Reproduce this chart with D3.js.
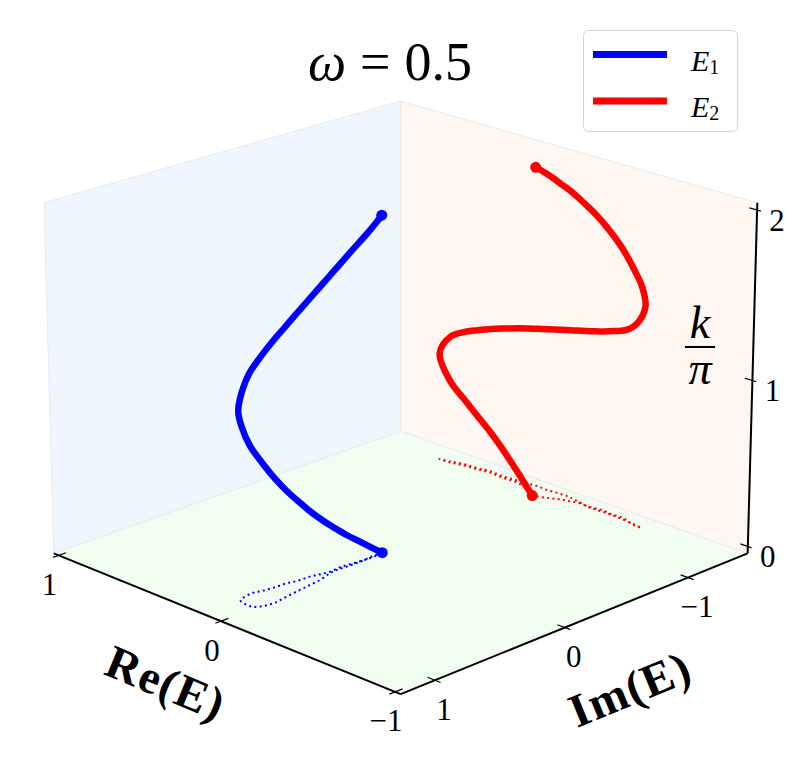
<!DOCTYPE html>
<html>
<head>
<meta charset="utf-8">
<script src="https://cdn.jsdelivr.net/npm/d3@7"></script>
<style>
  body { margin: 0; background: #fff; }
  svg { display: block; }
</style>
</head>
<body>
<svg id="chart" width="792" height="781"></svg>
<script>
const kE1 = [0, 0.046, 0.121, 0.191, 0.246, 0.289, 0.369, 0.442, 0.522, 0.631, 0.739, 0.844, 0.944, 1.037, 1.108,
             1.173, 1.290, 1.374, 1.444, 1.503, 1.568, 1.626, 1.681, 1.735, 1.780, 1.849, 1.918, 1.971, 2.0];
const reE1 = [0.006, 0.007, 0.001, 0.001, 0.005, -0.001, -0.024, -0.034, -0.043, -0.056, -0.068, -0.060, -0.032, 0.017, 0.046,
              0.059, 0.071, 0.058, 0.050, 0.047, 0.034, 0.031, 0.020, 0.011, 0.016, 0.009, 0.000, -0.001, 0.006];
const imE1 = [0.014, 0.084, 0.195, 0.299, 0.372, 0.431, 0.538, 0.627, 0.716, 0.833, 0.937, 1.014, 1.065, 1.063, 1.050,
              1.019, 0.935, 0.865, 0.786, 0.701, 0.630, 0.544, 0.481, 0.415, 0.331, 0.238, 0.144, 0.067, 0.014];

// E2 (red)
const kE2 = [0, 0.014, 0.073, 0.173, 0.256, 0.339, 0.421, 0.511, 0.667, 0.784, 0.828, 0.863, 0.890, 0.922, 0.945, 0.962,
             0.974, 0.995, 1.010, 1.026, 1.042, 1.076, 1.092, 1.119, 1.147, 1.221, 1.338, 1.446, 1.510, 1.626, 1.711, 1.782,
             1.825, 1.877, 1.920, 1.964, 2.0];
const reE2 = [0.012, 0.084, 0.168, 0.247, 0.332, 0.402, 0.478, 0.543, 0.606, 0.552, 0.489, 0.413, 0.344, 0.259, 0.186, 0.129,
              0.078, 0.014, -0.048, -0.106, -0.153, -0.247, -0.314, -0.378, -0.444, -0.526, -0.573, -0.548, -0.508, -0.425, -0.345, -0.270,
              -0.195, -0.141, -0.089, -0.043, 0.012];
const imE2 = [-1.215, -1.269, -1.303, -1.300, -1.307, -1.292, -1.283, -1.261, -1.257, -1.272, -1.298, -1.307, -1.324, -1.318, -1.329, -1.333,
              -1.345, -1.339, -1.349, -1.350, -1.340, -1.317, -1.333, -1.324, -1.326, -1.290, -1.288, -1.295, -1.303, -1.312, -1.316, -1.312,
              -1.322, -1.301, -1.276, -1.244, -1.215];

const reTicks = [-1, 0, 1];
const imTicks = [-1, 0, 1];
const kTicks = [0, 1, 2];

const series = [
  { name: "E", sub: "1", color: "#0000ff", k: kE1, re: reE1, im: imE1 },
  { name: "E", sub: "2", color: "#ff0000", k: kE2, re: reE2, im: imE2 }
];

const svg = d3.select("#chart");
const serif = "'Liberation Serif', 'DejaVu Serif', serif";

// view of the box
const elev = 20 * Math.PI / 180, dist = 18.64, zoom = 248.7, cx = 400.7, cy = 380.5;

// data -> box coordinates
const xS = d3.scaleLinear().domain([-1.031, 1.031]).range([-1, 1]);
const yS = d3.scaleLinear().domain([-1.503, 1.255]).range([-1, 1]);
const zS = d3.scaleLinear().domain([-0.042, 2.042]).range([-0.75, 0.75]);

function proj(a, b, c) {
  const xc = -(a + b) / Math.SQRT2;
  const d = (b - a) / Math.SQRT2;
  const w = d * Math.cos(elev) + c * Math.sin(elev);
  const yc = c * Math.cos(elev) - d * Math.sin(elev);
  const W = 1 - w / dist;
  return [cx + zoom * xc / W, cy - zoom * yc / W];
}
const P = (re, im, k) => proj(xS(re), yS(im), zS(k));

const lo = -0.75, hi = 0.75;
const panes = [
  { fill: "#eff6fe", pts: [[1, -1, lo], [1, 1, lo], [1, 1, hi], [1, -1, hi]] },
  { fill: "#fdf6f1", pts: [[1, -1, lo], [-1, -1, lo], [-1, -1, hi], [1, -1, hi]] },
  { fill: "#f1fdf1", pts: [[1, 1, lo], [-1, 1, lo], [-1, -1, lo], [1, -1, lo]] }
];
svg.append("g").selectAll("path")
  .data(panes)
  .enter().append("path")
  .attr("d", p => "M" + p.pts.map(q => proj(q[0], q[1], q[2]).join(",")).join("L") + "Z")
  .attr("fill", p => p.fill)
  .attr("stroke", "#e9e9ee")
  .attr("stroke-width", 1);

// axis lines
const axes = svg.append("g").attr("stroke", "#000").attr("stroke-width", 2).attr("fill", "none");
const seg = (p, q) => axes.append("line")
  .attr("x1", p[0]).attr("y1", p[1]).attr("x2", q[0]).attr("y2", q[1]);
seg(proj(1, 1, lo), proj(-1, 1, lo));
seg(proj(-1, 1, lo), proj(-1, -1, lo));
seg(proj(-1, -1, lo), proj(-1, -1, hi));

const fmt = d => d < 0 ? "\u2212" + Math.abs(d) : String(d);
const ticks = svg.append("g");

reTicks.forEach(t => {
  const p1 = proj(xS(t), 0.96, lo), p2 = proj(xS(t), 1.03, lo);
  seg(p1, p2).attr("stroke-width", 1.2);
  const p = proj(xS(t), 1, lo);
  ticks.append("text").attr("x", p[0] - 9).attr("y", p[1] + 29)
    .attr("text-anchor", "middle").attr("dominant-baseline", "central")
    .attr("font-family", serif).attr("font-size", 31).text(fmt(t));
});
imTicks.forEach(t => {
  const p1 = proj(-0.96, yS(t), lo), p2 = proj(-1.03, yS(t), lo);
  seg(p1, p2).attr("stroke-width", 1.2);
  const p = proj(-1, yS(t), lo);
  ticks.append("text").attr("x", p[0] + 9).attr("y", p[1] + 29)
    .attr("text-anchor", "middle").attr("dominant-baseline", "central")
    .attr("font-family", serif).attr("font-size", 31).text(fmt(t));
});
kTicks.forEach(t => {
  const p1 = proj(-0.96, -1, zS(t)), p2 = proj(-1.02, -1, zS(t));
  seg(p1, p2).attr("stroke-width", 1.2);
  const p = proj(-1, -1, zS(t));
  ticks.append("text").attr("x", p[0] + 20).attr("y", p[1] + 10)
    .attr("text-anchor", "middle").attr("dominant-baseline", "central")
    .attr("font-family", serif).attr("font-size", 31).text(fmt(t));
});

// axis labels
svg.append("text")
  .attr("transform", "translate(166,683) rotate(22.5)")
  .attr("text-anchor", "middle").attr("dominant-baseline", "central")
  .attr("font-family", serif).attr("font-weight", "bold").attr("font-size", 47)
  .attr("letter-spacing", 1.5)
  .text("Re(E)");
svg.append("text")
  .attr("transform", "translate(630,689) rotate(-22.4)")
  .attr("text-anchor", "middle").attr("dominant-baseline", "central")
  .attr("font-family", serif).attr("font-weight", "bold").attr("font-size", 47)
  .attr("letter-spacing", 1.5)
  .text("Im(E)");
const zl = svg.append("g").attr("font-family", serif).attr("font-size", 46).attr("text-anchor", "middle");
zl.append("text").attr("x", 700).attr("y", 338).attr("font-style", "italic").text("k");
zl.append("line").attr("x1", 685).attr("x2", 715).attr("y1", 347).attr("y2", 347)
  .attr("stroke", "#000").attr("stroke-width", 2);
zl.append("text").attr("x", 700).attr("y", 384).attr("font-style", "italic").text("\u03c0");

// floor shadows, then curves, then end dots
const line = d3.line().curve(d3.curveCatmullRom.alpha(0.5));
const floorK = 0; // shadows lie in the k = 0 plane

series.forEach(s => {
  const floorPts = s.k.map((k, i) => P(s.re[i], s.im[i], floorK));
  svg.append("path")
    .attr("d", line(floorPts))
    .attr("fill", "none").attr("stroke", s.color)
    .attr("stroke-width", 2).attr("stroke-dasharray", "2,3.3");
});
series.forEach(s => {
  const pts = s.k.map((k, i) => P(s.re[i], s.im[i], k));
  svg.append("path")
    .attr("d", line(pts))
    .attr("fill", "none").attr("stroke", s.color)
    .attr("stroke-width", 6.5).attr("stroke-linecap", "round");
  svg.append("g").selectAll("circle")
    .data([0, s.k.length - 1])
    .enter().append("circle")
    .attr("cx", i => pts[i][0]).attr("cy", i => pts[i][1])
    .attr("r", 5.5).attr("fill", s.color);
});

// title
svg.append("text")
  .attr("x", 390).attr("y", 80).attr("text-anchor", "middle")
  .attr("font-family", serif).attr("font-size", 54)
  .html("<tspan font-style='italic'>\u03c9</tspan><tspan dx='14'>=</tspan><tspan dx='14'>0.5</tspan>");

// legend
const lg = svg.append("g");
lg.append("rect").attr("x", 583.5).attr("y", 30.5).attr("width", 154).attr("height", 101)
  .attr("rx", 5).attr("fill", "#fff").attr("fill-opacity", 0.8)
  .attr("stroke", "#d5d5d5").attr("stroke-width", 1);
series.forEach((s, i) => {
  const y = 54.5 + i * 46.5;
  lg.append("line").attr("x1", 593).attr("x2", 667).attr("y1", y).attr("y2", y)
    .attr("stroke", s.color).attr("stroke-width", 7);
  const t = lg.append("text").attr("x", 691).attr("y", y + 16)
    .attr("font-family", serif).attr("font-size", 30);
  t.append("tspan").attr("font-style", "italic").text(s.name);
  t.append("tspan").attr("font-size", 20).attr("dy", 3).text(s.sub);
});
</script>
</body>
</html>
